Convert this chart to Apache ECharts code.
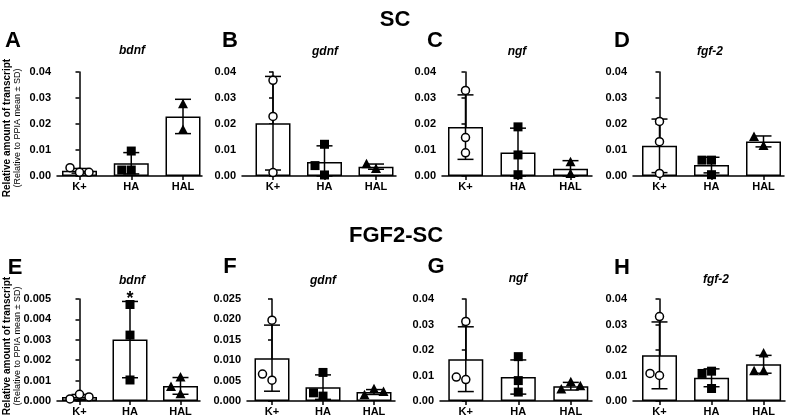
<!DOCTYPE html>
<html>
<head>
<meta charset="utf-8">
<title>SC / FGF2-SC transcripts</title>
<script src="https://cdn.jsdelivr.net/npm/echarts@6/dist/echarts.min.js"></script>
<style>
  html, body { margin: 0; padding: 0; background: #fff; }
  #chart { width: 792px; height: 417px; }
</style>
</head>
<body>
<div id="chart"></div>
<script>
// groups on every x axis
const groups = ['K+', 'HA', 'HAL'];

// y axis ticks
const ticks4 = [0, 0.01, 0.02, 0.03, 0.04];
const ticksE = [0, 0.001, 0.002, 0.003, 0.004, 0.005];
const ticksF = [0, 0.005, 0.010, 0.015, 0.020, 0.025];

// SC row
// A - bdnf
const meanA = [0.0020, 0.0049, 0.0229];
const sdA = [0.0009, 0.0041, 0.0066];
const ptsA = [[0.0014, 0.0032, 0.0014], [0.0023, 0.0096, 0.0023], [0.0276, 0.0177]];
// B - gdnf
const meanB = [0.0203, 0.0054, 0.0036];
const sdB = [0.0180, 0.0062, 0.0010];
const ptsB = [[0.0368, 0.0229, 0.0013], [0.0122, 0.0004, 0.0040], [0.0027, 0.0045]];
// C - ngf
const meanC = [0.0188, 0.0090, 0.0028];
const sdC = [0.0124, 0.0094, 0.0031];
const ptsC = [[0.0329, 0.0148, 0.0089], [0.0189, 0.0081, 0.0005], [0.0053, 0.0008]];
// D - fgf-2
const meanD = [0.0116, 0.0042, 0.0133];
const sdD = [0.0103, 0.0030, 0.0021];
const ptsD = [[0.0210, 0.0132, 0.0010], [0.0061, 0.0061, 0.0005], [0.0115, 0.0150]];

// FGF2-SC row
// E - bdnf
const meanE = [0.00020, 0.00301, 0.00074];
const sdE = [0.00012, 0.00187, 0.00041];
const ptsE = [[0.00033, 0.00010, 0.00020], [0.00473, 0.00323, 0.00103], [0.00115, 0.00069, 0.00033]];
const sigE = ['', '*', ''];
// F - gdnf
const meanF = [0.0105, 0.0034, 0.0022];
const sdF = [0.0081, 0.0030, 0.0006];
const ptsF = [[0.0198, 0.0051, 0.0066], [0.0070, 0.0012, 0.0020], [0.0029, 0.0014, 0.0022]];
// G - ngf
const meanG = [0.0164, 0.0094, 0.0058];
const sdG = [0.0127, 0.0067, 0.0015];
const ptsG = [[0.0312, 0.0084, 0.0094], [0.0174, 0.0080, 0.0035], [0.0074, 0.0045, 0.0058]];
// H - fgf-2
const meanH = [0.0179, 0.0091, 0.0144];
const sdH = [0.0131, 0.0035, 0.0035];
const ptsH = [[0.0331, 0.0100, 0.0108], [0.0117, 0.0108, 0.0049], [0.0186, 0.0117, 0.0117]];

const panels = [
  { id: 'A', gene: 'bdnf', mean: meanA, sd: sdA, pts: ptsA, ticks: ticks4, dec: 2 },
  { id: 'B', gene: 'gdnf', mean: meanB, sd: sdB, pts: ptsB, ticks: ticks4, dec: 2 },
  { id: 'C', gene: 'ngf', mean: meanC, sd: sdC, pts: ptsC, ticks: ticks4, dec: 2 },
  { id: 'D', gene: 'fgf-2', mean: meanD, sd: sdD, pts: ptsD, ticks: ticks4, dec: 2 },
  { id: 'E', gene: 'bdnf', mean: meanE, sd: sdE, pts: ptsE, ticks: ticksE, dec: 3, sig: sigE },
  { id: 'F', gene: 'gdnf', mean: meanF, sd: sdF, pts: ptsF, ticks: ticksF, dec: 3 },
  { id: 'G', gene: 'ngf', mean: meanG, sd: sdG, pts: ptsG, ticks: ticks4, dec: 2 },
  { id: 'H', gene: 'fgf-2', mean: meanH, sd: sdH, pts: ptsH, ticks: ticks4, dec: 2 }
];

// layout (px): y axis x, first/last bar centre, axis end, plot top/bottom,
// panel letter and gene title positions
const boxes = [
  { ax: 57, c0: 79.5, c2: 183, end: 202, top: 72, bot: 176, lx: 13, ly: 41, gx: 132, gy: 51 },
  { ax: 242, c0: 273, c2: 376, end: 396, top: 72, bot: 176, lx: 230, ly: 41, gx: 325, gy: 52 },
  { ax: 442, c0: 465.5, c2: 570.5, end: 592, top: 72, bot: 176, lx: 435, ly: 41, gx: 517, gy: 52 },
  { ax: 633, c0: 659.5, c2: 763.5, end: 784, top: 72, bot: 176, lx: 622, ly: 41, gx: 710, gy: 52 },
  { ax: 57, c0: 79.5, c2: 180.5, end: 200, top: 299, bot: 402, lx: 15, ly: 268, gx: 132, gy: 281 },
  { ax: 247, c0: 272, c2: 374, end: 395, top: 299, bot: 402, lx: 230, ly: 267, gx: 323, gy: 281 },
  { ax: 440, c0: 465.8, c2: 570.8, end: 592, top: 299, bot: 402, lx: 436, ly: 267, gx: 518, gy: 279 },
  { ax: 633, c0: 659.5, c2: 763.6, end: 785, top: 299, bot: 402, lx: 622, ly: 268, gx: 716, gy: 280 }
];

const FONT = '"Liberation Sans", Arial, sans-serif';
const BLACK = '#000';
const MS = 9; // marker size

// spread overlapping points sideways, like a small beeswarm
function swarm(coords) {
  const placed = [];
  const slots = [0, -1, 1, -2, 2];
  return coords.map(function (c) {
    for (const s of slots) {
      const px = c[0] + s * (MS + 0.5);
      if (placed.every(p => Math.hypot(p[0] - px, p[1] - c[1]) >= MS + 0.5)) {
        placed.push([px, c[1]]);
        return px;
      }
    }
    placed.push(c);
    return c[0];
  });
}

function marker(g, x, y) {
  if (g === 0) {
    return { type: 'circle', shape: { cx: x, cy: y, r: 4 },
      style: { fill: '#fff', stroke: BLACK, lineWidth: 1.5 } };
  }
  if (g === 1) {
    return { type: 'rect', shape: { x: x - 4.5, y: y - 4.5, width: 9, height: 9 },
      style: { fill: BLACK } };
  }
  return { type: 'polygon', shape: { points: [[x, y - 5.5], [x - 5, y + 4], [x + 5, y + 4]] },
    style: { fill: BLACK } };
}

const grid = [], xAxis = [], yAxis = [], series = [], graphic = [];

panels.forEach(function (p, i) {
  const b = boxes[i];
  const sp = (b.c2 - b.c0) / 2;
  const axisStyle = { color: BLACK, width: 1.5 };
  const labelStyle = { color: BLACK, fontWeight: 'bold', fontSize: 11, fontFamily: FONT };

  grid.push({ left: b.ax, top: b.top, width: b.end - b.ax, height: b.bot - b.top });

  xAxis.push({
    type: 'value', gridIndex: i,
    min: -(b.c0 - b.ax) / sp, max: 2 + (b.end - b.c2) / sp,
    axisLine: { show: true, onZero: false, lineStyle: axisStyle },
    axisTick: { show: true, customValues: [0, 1, 2], length: 4, lineStyle: axisStyle },
    axisLabel: Object.assign({ customValues: [0, 1, 2], margin: 5,
      formatter: v => groups[Math.round(v)] }, labelStyle),
    splitLine: { show: false }
  });

  const t = p.ticks;
  yAxis.push({
    type: 'value', gridIndex: i,
    min: t[0], max: t[t.length - 1], interval: t[1] - t[0],
    axisLine: { show: true, lineStyle: axisStyle },
    axisTick: { show: true, length: 4, lineStyle: axisStyle },
    axisLabel: Object.assign({ margin: 6, formatter: v => v.toFixed(p.dec) }, labelStyle),
    splitLine: { show: false }
  });

  // bars = group means
  series.push({
    type: 'bar', xAxisIndex: i, yAxisIndex: i, barWidth: 35, z: 1,
    data: p.mean.map((m, g) => [g, m]),
    itemStyle: { color: '#fff', borderColor: BLACK, borderWidth: 1.5 },
    silent: true
  });

  // error bars (mean ± SD) and significance marks
  series.push({
    type: 'custom', xAxisIndex: i, yAxisIndex: i, z: 2, silent: true,
    encode: { x: 0, y: [1, 2] },
    data: p.mean.map((m, g) => [g, m + p.sd[g], Math.max(m - p.sd[g], 0)]),
    renderItem: function (params, api) {
      const g = api.value(0);
      const hi = api.coord([g, api.value(1)]);
      const lo = api.coord([g, api.value(2)]);
      const w = 8;
      const ls = { stroke: BLACK, lineWidth: 1.5 };
      const children = [
        { type: 'line', shape: { x1: hi[0], y1: hi[1], x2: lo[0], y2: lo[1] }, style: ls },
        { type: 'line', shape: { x1: hi[0] - w, y1: hi[1], x2: hi[0] + w, y2: hi[1] }, style: ls },
        { type: 'line', shape: { x1: lo[0] - w, y1: lo[1], x2: lo[0] + w, y2: lo[1] }, style: ls }
      ];
      if (p.sig && p.sig[g]) {
        children.push({ type: 'text', x: hi[0], y: hi[1] - 2,
          style: { text: p.sig[g], font: 'bold 18px ' + FONT, fill: BLACK,
            textAlign: 'center', textVerticalAlign: 'middle' } });
      }
      return { type: 'group', children: children };
    }
  });

  // individual points
  const pdata = [];
  p.pts.forEach((arr, g) => arr.forEach((v, k) => pdata.push([g, v, k])));
  series.push({
    type: 'custom', xAxisIndex: i, yAxisIndex: i, z: 3, silent: true,
    encode: { x: 0, y: 1 },
    data: pdata,
    renderItem: function (params, api) {
      const g = api.value(0), k = api.value(2);
      const coords = p.pts[g].map(v => api.coord([g, v]));
      const xs = swarm(coords);
      return marker(g, xs[k], coords[k][1]);
    }
  });

  graphic.push({ type: 'text', x: b.lx, y: b.ly, silent: true,
    style: { text: p.id, font: 'bold 22px ' + FONT, fill: BLACK,
      textAlign: 'center', textVerticalAlign: 'middle' } });
  graphic.push({ type: 'text', x: b.gx, y: b.gy, silent: true,
    style: { text: p.gene, font: 'italic bold 12px ' + FONT, fill: BLACK,
      textAlign: 'center', textVerticalAlign: 'middle' } });
});

// row titles
graphic.push({ type: 'text', x: 395, y: 20, silent: true,
  style: { text: 'SC', font: 'bold 22px ' + FONT, fill: BLACK, textAlign: 'center', textVerticalAlign: 'middle' } });
graphic.push({ type: 'text', x: 396, y: 236, silent: true,
  style: { text: 'FGF2-SC', font: 'bold 22px ' + FONT, fill: BLACK, textAlign: 'center', textVerticalAlign: 'middle' } });

// y axis names, one pair per row
[128, 346].forEach(function (cy) {
  graphic.push({ type: 'text', x: 7, y: cy, rotation: Math.PI / 2, silent: true,
    style: { text: 'Relative amount of transcript', font: 'bold 10px ' + FONT, fill: BLACK,
      textAlign: 'center', textVerticalAlign: 'middle' } });
  graphic.push({ type: 'text', x: 18, y: cy, rotation: Math.PI / 2, silent: true,
    style: { text: '(Relative to PPIA mean \u00b1 SD)', font: '9px ' + FONT, fill: BLACK,
      textAlign: 'center', textVerticalAlign: 'middle' } });
});

const chart = echarts.init(document.getElementById('chart'), null, { renderer: 'canvas' });
chart.setOption({
  animation: false,
  backgroundColor: '#fff',
  grid: grid,
  xAxis: xAxis,
  yAxis: yAxis,
  series: series,
  graphic: graphic
});
</script>
</body>
</html>
